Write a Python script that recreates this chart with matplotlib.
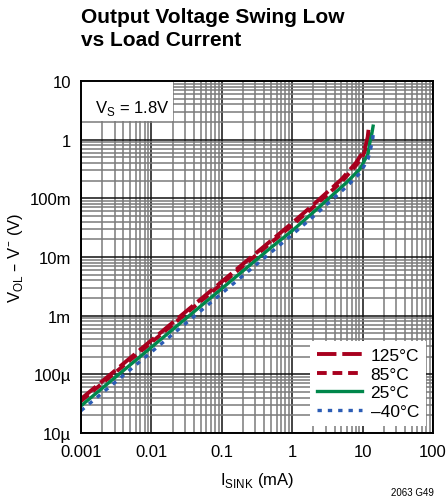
import matplotlib
matplotlib.use("Agg")
import matplotlib.pyplot as plt
from matplotlib.patches import Rectangle
from matplotlib.ticker import FixedLocator, LogLocator, NullFormatter

plt.rcParams['font.family'] = ['Liberation Sans', 'DejaVu Sans']

# load current (mA) and output swing low (V) per temperature
i_125 = [0.001, 0.002, 0.005, 0.01, 0.02, 0.05, 0.1, 0.2, 0.5, 1, 2, 5, 8, 10, 11, 11.8, 12.3]
v_125 = [38e-6, 76e-6, 190e-6, 380e-6, 760e-6, 1.9e-3, 3.8e-3, 7.6e-3, 19e-3, 38e-3, 78e-3,
         210e-3, 400e-3, 600e-3, 780e-3, 1.1, 1.7]
i_85 = [0.001, 0.002, 0.005, 0.01, 0.02, 0.05, 0.1, 0.2, 0.5, 1, 2, 5, 8, 10, 11, 12, 12.6]
v_85 = [35e-6, 70e-6, 175e-6, 350e-6, 700e-6, 1.75e-3, 3.5e-3, 7.0e-3, 17.5e-3, 35e-3, 71e-3,
        190e-3, 360e-3, 520e-3, 680e-3, 1.0, 1.6]
i_25 = [0.001, 0.002, 0.005, 0.01, 0.02, 0.05, 0.1, 0.2, 0.5, 1, 2, 6, 9.2, 11.9, 12.7, 13.5, 14.1]
v_25 = [29e-6, 58e-6, 145e-6, 290e-6, 580e-6, 1.45e-3, 2.9e-3, 5.8e-3, 14.5e-3, 28e-3, 58e-3,
        189e-3, 318e-3, 566e-3, 906e-3, 1.25, 1.7]
i_m40 = [0.001, 0.002, 0.005, 0.01, 0.02, 0.05, 0.1, 0.2, 0.5, 1, 2, 6, 9.2, 11.9, 13, 13.8, 14.2]
v_m40 = [24e-6, 48e-6, 120e-6, 240e-6, 480e-6, 1.2e-3, 2.4e-3, 4.8e-3, 12e-3, 24e-3, 49e-3,
         160e-3, 270e-3, 460e-3, 700e-3, 950e-3, 1.25]

x_ticks = [0.001, 0.01, 0.1, 1, 10, 100]
x_labels = ['0.001', '0.01', '0.1', '1', '10', '100']
y_ticks = [1e-5, 1e-4, 1e-3, 1e-2, 1e-1, 1, 10]
y_labels = ['10µ', '100µ', '1m', '10m', '100m', '1', '10']

red = '#a8001e'
green = '#00874b'
blue = '#2b5cb5'

fig = plt.figure(figsize=(4.47, 5.02), dpi=100)
ax = fig.add_axes([81 / 447, 1 - 434 / 502, 352 / 447, 352 / 502])

ax.plot(i_125, v_125, color=red, lw=2.8, dashes=(5, 1.5), label='125°C')
ax.plot(i_85, v_85, color=red, lw=2.8, dashes=(2.5, 1.5), label='85°C')
ax.plot(i_25, v_25, color=green, lw=2.4, label='25°C')
ax.plot(i_m40, v_m40, color=blue, lw=2.4, dashes=(1.3, 1.8), label='–40°C')

ax.set_xscale('log')
ax.set_yscale('log')
ax.set_xlim(0.001, 100)
ax.set_ylim(1e-5, 10)
ax.xaxis.set_major_locator(FixedLocator(x_ticks))
ax.yaxis.set_major_locator(FixedLocator(y_ticks))
ax.set_xticklabels(x_labels)
ax.set_yticklabels(y_labels)
ax.xaxis.set_minor_locator(LogLocator(base=10, subs=range(2, 10)))
ax.yaxis.set_minor_locator(LogLocator(base=10, subs=range(2, 10)))
ax.xaxis.set_minor_formatter(NullFormatter())
ax.yaxis.set_minor_formatter(NullFormatter())
ax.tick_params(which='both', length=0, labelsize=12)
ax.tick_params(axis='x', pad=8)
ax.tick_params(axis='y', pad=7)
ax.grid(which='major', color='#111111', lw=1.1)
ax.grid(which='minor', color='#7a7a7a', lw=1.1)
ax.set_axisbelow(True)
for s in ax.spines.values():
    s.set_linewidth(1.4)

ax.set_xlabel('I$_{\\mathregular{SINK}}$ (mA)', fontsize=12, labelpad=8)
ax.set_ylabel('V$_{\\mathregular{OL}}$ – V$^{\\mathregular{–}}$ (V)', fontsize=12, labelpad=3)

ax.add_patch(Rectangle((0, 0.886), 0.261, 0.114, transform=ax.transAxes,
                       facecolor='white', edgecolor='none', zorder=2))
ax.text(0.04, 0.925, 'V$_{\\mathregular{S}}$ = 1.8V', fontsize=12, va='center', ha='left',
        transform=ax.transAxes, zorder=3)

leg = ax.legend(loc='lower right', frameon=True, fontsize=12.5, handlelength=2.6,
                borderaxespad=0.4, labelspacing=0.2, handletextpad=0.5)
leg.get_frame().set_edgecolor('none')
leg.get_frame().set_facecolor('white')
leg.get_frame().set_alpha(1)
leg.get_frame().set_boxstyle('square', pad=0)

fig.text(81 / 447, 1 - 8 / 502, 'Output Voltage Swing Low\nvs Load Current', fontsize=15,
         fontweight='bold', ha='left', va='top', linespacing=1.3)
fig.text(412 / 447, 1 - 493 / 502, '2063 G49', fontsize=7, ha='center', va='center')

fig.savefig('out.png', dpi=100)
